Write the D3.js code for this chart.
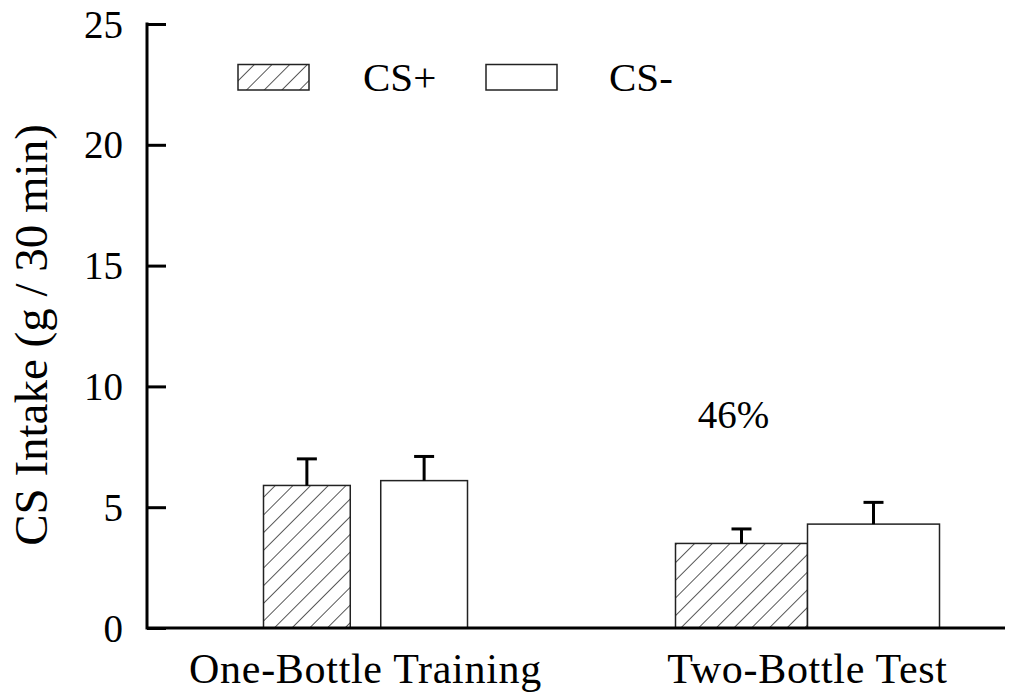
<!DOCTYPE html>
<html>
<head>
<meta charset="utf-8">
<script src="https://cdn.jsdelivr.net/npm/d3@7"></script>
<style>
  html, body { margin: 0; padding: 0; background: #fff; }
</style>
</head>
<body>
<svg id="chart" width="1019" height="694"></svg>
<script>
// Mean CS intake (g / 30 min) with SEM, per test phase
const groups = ["One-Bottle Training", "Two-Bottle Test"];
const series = ["CS+", "CS-"];
const csPlusMean = [5.9, 3.5];
const csPlusSem = [1.1, 0.6];
const csMinusMean = [6.1, 4.3];
const csMinusSem = [1.0, 0.9];
const yTicks = [0, 5, 10, 15, 20, 25];
const preferenceLabel = "46%";

const FONT = '"Liberation Serif", "Times New Roman", serif';
const svg = d3.select("#chart");
const plot = { left: 147, right: 1005, top: 24, bottom: 628 };

const y = d3.scaleLinear().domain([0, 25]).range([plot.bottom, plot.top]);

// group centres along the x axis
const xGroup = d3.scalePoint().domain(groups).range([365.5, 807.5]);
// each phase has its own cluster width and bar spacing
const clusterLayout = {
  "One-Bottle Training": { width: 204, padding: 0.26 },
  "Two-Bottle Test": { width: 264, padding: 0 }
};
const xInner = g => {
  const c = clusterLayout[g];
  return d3.scaleBand().domain(series).range([-c.width / 2, c.width / 2])
    .paddingInner(c.padding).paddingOuter(0);
};

// diagonal hatch for CS+
const defs = svg.append("defs");
const pat = defs.append("pattern")
  .attr("id", "hatch")
  .attr("patternUnits", "userSpaceOnUse")
  .attr("width", 12.5).attr("height", 12.5)
  .attr("patternTransform", "rotate(45)");
pat.append("rect").attr("width", 12.5).attr("height", 12.5).attr("fill", "#fff");
pat.append("line").attr("x1", 0).attr("y1", 0).attr("x2", 0).attr("y2", 12.5)
  .attr("stroke", "#000").attr("stroke-width", 1.3);

const fills = { "CS+": "url(#hatch)", "CS-": "#fff" };

const rows = [];
groups.forEach((g, i) => {
  rows.push({ group: g, series: "CS+", mean: csPlusMean[i], sem: csPlusSem[i] });
  rows.push({ group: g, series: "CS-", mean: csMinusMean[i], sem: csMinusSem[i] });
});

// bars
const barG = svg.append("g");
rows.forEach(d => {
  const xi = xInner(d.group);
  const x0 = xGroup(d.group) + xi(d.series);
  const w = xi.bandwidth();
  barG.append("rect")
    .attr("x", x0).attr("y", y(d.mean))
    .attr("width", w).attr("height", y(0) - y(d.mean))
    .attr("fill", fills[d.series])
    .attr("stroke", "#222").attr("stroke-width", 1.5);
  // upward error bar with cap
  const cx = x0 + w / 2;
  barG.append("line")
    .attr("x1", cx).attr("x2", cx)
    .attr("y1", y(d.mean)).attr("y2", y(d.mean + d.sem))
    .attr("stroke", "#000").attr("stroke-width", 3);
  barG.append("line")
    .attr("x1", cx - 10).attr("x2", cx + 10)
    .attr("y1", y(d.mean + d.sem)).attr("y2", y(d.mean + d.sem))
    .attr("stroke", "#000").attr("stroke-width", 3);
});

// y axis with inward ticks
const yAxis = d3.axisRight(y).tickValues(yTicks).tickSize(19).tickFormat("");
const yG = svg.append("g").attr("transform", `translate(${plot.left},0)`).call(yAxis);
yG.select(".domain").remove();
yG.selectAll(".tick line").attr("stroke", "#000").attr("stroke-width", 3);
svg.append("line")
  .attr("x1", plot.left).attr("x2", plot.left)
  .attr("y1", plot.top - 1.5).attr("y2", plot.bottom + 1.5)
  .attr("stroke", "#000").attr("stroke-width", 3);
svg.append("g").selectAll("text").data(yTicks).join("text")
  .attr("x", 123).attr("y", d => y(d))
  .attr("dy", "0.35em")
  .attr("text-anchor", "end")
  .style("font-family", FONT)
  .attr("font-size", 39)
  .text(d => d);

// x axis baseline
svg.append("line")
  .attr("x1", plot.left).attr("x2", plot.right)
  .attr("y1", y(0)).attr("y2", y(0))
  .attr("stroke", "#000").attr("stroke-width", 3);

// group labels
svg.append("g").selectAll("text").data(groups).join("text")
  .attr("x", d => xGroup(d)).attr("y", 683)
  .attr("text-anchor", "middle")
  .style("font-family", FONT)
  .attr("font-size", 42)
  .attr("letter-spacing", "0.7px")
  .text(d => d);

// y axis title
svg.append("text")
  .attr("transform", "translate(47, 335) rotate(-90)")
  .attr("text-anchor", "middle")
  .style("font-family", FONT)
  .attr("font-size", 47)
  .text("CS Intake (g / 30 min)");

// preference annotation above the test cluster
{
  const g = groups[1];
  const xi = xInner(g);
  svg.append("text")
    .attr("x", xGroup(g) + xi("CS+") + xi.bandwidth() / 2 - 8)
    .attr("y", 428)
    .attr("text-anchor", "middle")
    .style("font-family", FONT)
    .attr("font-size", 39)
    .text(preferenceLabel);
}

// legend
const legend = svg.append("g");
const legendItems = [
  { key: "CS+", box: 238, text: 363 },
  { key: "CS-", box: 486, text: 609 }
];
legendItems.forEach(it => {
  legend.append("rect")
    .attr("x", it.box).attr("y", 64.5)
    .attr("width", 71).attr("height", 25.5)
    .attr("fill", fills[it.key])
    .attr("stroke", "#222").attr("stroke-width", 1.5);
  legend.append("text")
    .attr("x", it.text).attr("y", 91)
    .style("font-family", FONT)
    .attr("font-size", 41)
    .text(it.key);
});
</script>
</body>
</html>
